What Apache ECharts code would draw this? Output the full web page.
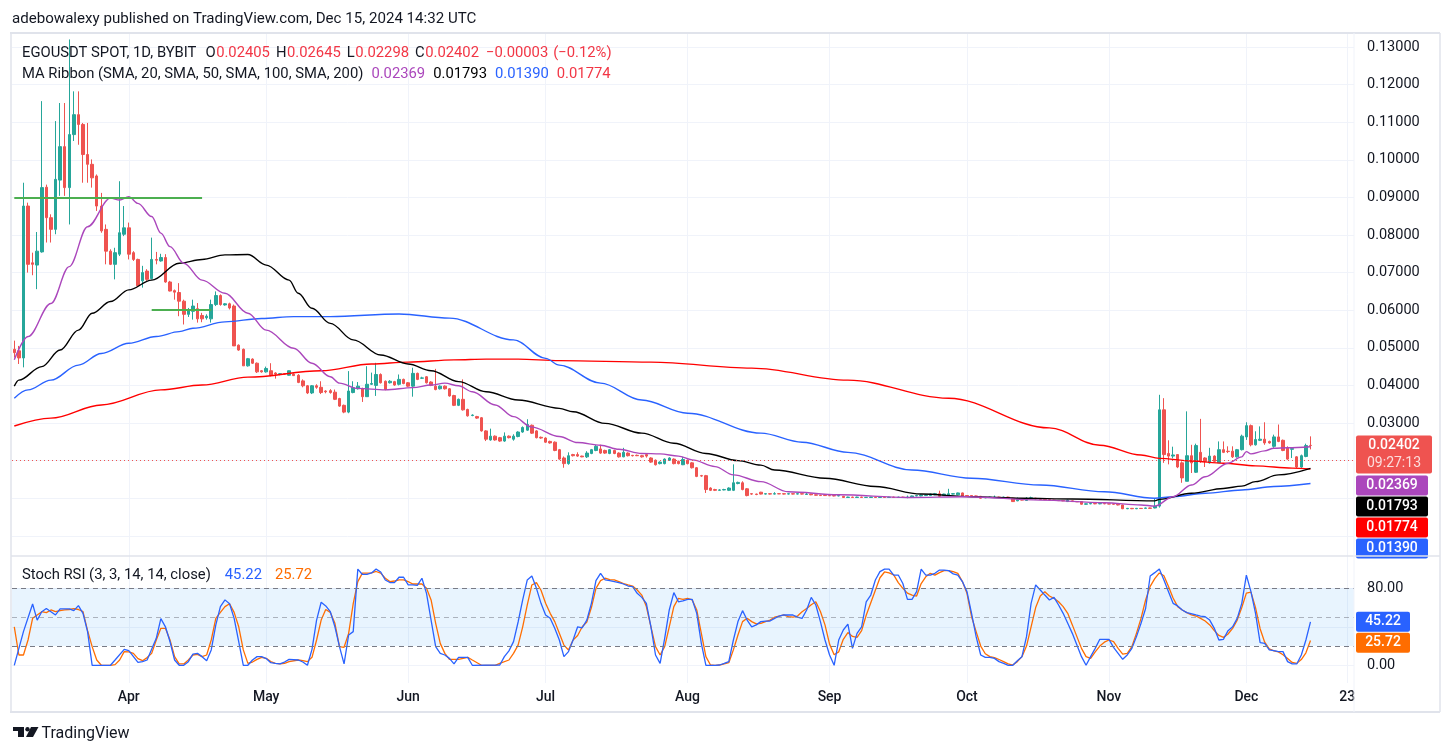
<!DOCTYPE html>
<html>
<head>
<meta charset="utf-8">
<title>EGOUSDT SPOT 1D</title>
<script src="https://cdn.jsdelivr.net/npm/echarts@6.0.0/dist/echarts.min.js"></script>
<style>
html,body{margin:0;padding:0;background:#ffffff;}
#chart{width:1454px;height:756px;}
</style>
</head>
<body>
<div id="chart"></div>
<script>
// ---------------- categories / ticks ----------------
const startDay = Date.UTC(2024, 2, 7);          // 2024-03-07, first daily candle
const dayCount = 293;                           // through 2024-12-24 (right margin of the time scale)
const monthNames = ['Jan','Feb','Mar','Apr','May','Jun','Jul','Aug','Sep','Oct','Nov','Dec'];
const extraTimeLabels = { '2024-12-23': '23' };
const priceGridValues = [0, 0.01, 0.02, 0.03, 0.04, 0.05, 0.06, 0.07, 0.08, 0.09, 0.10, 0.11, 0.12, 0.13];
const priceLabelValues = [0.03, 0.04, 0.05, 0.06, 0.07, 0.08, 0.09, 0.10, 0.11, 0.12, 0.13];
const stochGridValues = [0, 40, 80];
const stochLabelValues = [0, 80];

// ---------------- daily candles  [open, close, low, high] ----------------
const candlesMar = [
 [.0496,.0487,.0474,.0519],[.0492,.0473,.0457,.0505],[.0473,.0877,.0448,.0939],[.0877,.0722,.0700,.0886],
 [.0726,.0722,.0693,.0753],[.0720,.0757,.0656,.0808],[.0755,.0926,.0753,.1156],[.0927,.0846,.0780,.0934],
 [.0846,.0815,.0780,.0855],[.0815,.0948,.0802,.1103],[.0946,.1035,.0904,.1151],[.1035,.0926,.0904,.1151],
 [.0926,.1067,.0828,.1320],[.1067,.1120,.1050,.1182],[.1120,.1094,.1040,.1182],[.1094,.1014,.0939,.1098],
 [.1014,.0988,.0939,.1098],[.0988,.0952,.0926,.1001],[.0957,.0877,.0864,.0961],[.0877,.0811,.0806,.0912],
 [.0815,.0757,.0722,.0828],[.0757,.0722,.0720,.0762],[.0722,.0753,.0682,.0766],[.0749,.0806,.0744,.0943],
 [.0802,.0819,.0797,.0877]
];
const candlesApr = [
 [.0819,.0749,.0735,.0833],[.0753,.0735,.0731,.0757],[.0735,.0665,.0663,.0737],[.0678,.0700,.0660,.0718],
 [.0704,.0682,.0678,.0709],[.0684,.0735,.0682,.0793],[.0735,.0733,.0722,.0755],[.0731,.0740,.0729,.0750],
 [.0740,.0675,.0673,.0749],[.0675,.0651,.0650,.0678],[.0652,.0648,.0628,.0655],[.0647,.0624,.0584,.0672],
 [.0624,.0589,.0562,.0628],[.0589,.0602,.0582,.0606],[.0597,.0611,.0575,.0628],[.0604,.0577,.0567,.0619],
 [.0586,.0577,.0568,.0593],[.0580,.0584,.0575,.0589],[.0577,.0615,.0567,.0628],[.0615,.0639,.0611,.0650],
 [.0639,.0615,.0612,.0642],[.0614,.0617,.0612,.0619],[.0617,.0606,.0602,.0620],[.0611,.0505,.0505,.0615],
 [.0507,.0494,.0492,.0509],[.0496,.0452,.0452,.0498],[.0452,.0471,.0450,.0473],[.0470,.0459,.0457,.0472],
 [.0459,.0436,.0433,.0461],[.0439,.0436,.0434,.0441]
];
const candlesMay = [
 [.0436,.0445,.0434,.0450],[.0439,.0427,.0424,.0459],[.0433,.0430,.0418,.0435],[.0430,.0431,.0427,.0433],
 [.0431,.0430,.0428,.0432],[.0427,.0439,.0426,.0440],[.0430,.0426,.0425,.0432],[.0427,.0408,.0406,.0430],
 [.0412,.0399,.0395,.0416],[.0399,.0380,.0377,.0401],[.0380,.0399,.0377,.0401],[.0399,.0395,.0391,.0403],
 [.0395,.0381,.0377,.0411],[.0385,.0383,.0379,.0387],[.0386,.0381,.0378,.0390],[.0382,.0363,.0361,.0389],
 [.0365,.0345,.0343,.0367],[.0347,.0329,.0326,.0349],[.0329,.0385,.0326,.0438],[.0381,.0394,.0379,.0411],
 [.0391,.0398,.0389,.0409],[.0391,.0370,.0356,.0394],[.0370,.0403,.0370,.0451],[.0403,.0405,.0401,.0434],
 [.0400,.0429,.0372,.0460],[.0429,.0407,.0405,.0432],[.0411,.0389,.0387,.0413],[.0407,.0411,.0405,.0414],
 [.0410,.0401,.0399,.0412],[.0403,.0416,.0400,.0429],[.0416,.0405,.0403,.0418]
];
const candlesJun = [
 [.0407,.0398,.0396,.0409],[.0398,.0432,.0370,.0447],[.0432,.0416,.0414,.0434],[.0419,.0420,.0417,.0423],
 [.0423,.0407,.0405,.0425],[.0409,.0400,.0398,.0411],[.0398,.0389,.0387,.0444],[.0391,.0398,.0389,.0400],
 [.0398,.0391,.0389,.0400],[.0391,.0372,.0370,.0393],[.0373,.0347,.0345,.0375],[.0347,.0363,.0345,.0365],
 [.0363,.0335,.0333,.0416],[.0336,.0319,.0317,.0338],[.0320,.0321,.0318,.0323],[.0317,.0313,.0311,.0319],
 [.0314,.0279,.0277,.0316],[.0279,.0257,.0252,.0281],[.0255,.0265,.0253,.0285],[.0265,.0255,.0253,.0267],
 [.0261,.0252,.0250,.0263],[.0252,.0265,.0250,.0275],[.0265,.0261,.0259,.0267],[.0257,.0265,.0253,.0270],
 [.0264,.0276,.0262,.0278],[.0276,.0288,.0274,.0291],[.0281,.0296,.0279,.0310],[.0294,.0273,.0271,.0296],
 [.0279,.0261,.0259,.0281],[.0262,.0260,.0258,.0264]
];
const candlesJul = [
 [.0260,.0249,.0247,.0262],[.0251,.0247,.0245,.0253],[.0249,.0227,.0225,.0251],[.0229,.0204,.0202,.0231],
 [.0207,.0192,.0181,.0211],[.0192,.0213,.0189,.0222],[.0216,.0213,.0211,.0218],[.0216,.0212,.0210,.0222],
 [.0212,.0210,.0209,.0213],[.0210,.0220,.0207,.0225],[.0219,.0229,.0217,.0231],[.0227,.0238,.0225,.0242],
 [.0231,.0220,.0218,.0242],[.0227,.0220,.0218,.0229],[.0219,.0229,.0217,.0231],[.0227,.0219,.0217,.0229],
 [.0220,.0210,.0208,.0222],[.0210,.0222,.0209,.0234],[.0220,.0213,.0211,.0222],[.0214,.0213,.0211,.0215],
 [.0214,.0213,.0212,.0216],[.0213,.0210,.0208,.0215],[.0216,.0212,.0208,.0220],[.0207,.0196,.0194,.0209],
 [.0201,.0189,.0187,.0203],[.0192,.0196,.0190,.0198],[.0192,.0204,.0190,.0206],[.0201,.0207,.0199,.0209],
 [.0204,.0192,.0190,.0206],[.0198,.0192,.0190,.0200],[.0189,.0203,.0188,.0210]
];
const candlesAug = [
 [.0201,.0192,.0190,.0203],[.0194,.0181,.0179,.0196],[.0181,.0158,.0156,.0183],[.0160,.0159,.0157,.0162],
 [.0160,.0123,.0114,.0162],[.0127,.0121,.0119,.0129],[.0123,.0121,.0119,.0125],[.0121,.0122,.0120,.0124],
 [.0122,.0123,.0121,.0125],[.0121,.0127,.0119,.0129],[.0121,.0141,.0119,.0190],[.0139,.0142,.0137,.0144],
 [.0141,.0123,.0121,.0145],[.0125,.0107,.0105,.0127],[.0112,.0111,.0109,.0113],[.0111,.0110,.0108,.0112],
 [.0116,.0111,.0110,.0117],[.0111,.0112,.0110,.0113],[.0112,.0111,.0110,.0113],[.0111,.0112,.0110,.0116],
 [.0112,.01115,.0111,.0113],[.0112,.0111,.0110,.0113],[.0111,.0112,.0110,.0113],[.0112,.0111,.0110,.0113],
 [.0111,.0112,.0110,.0113],[.0112,.0111,.0110,.0112],[.0110,.0111,.0109,.0114],[.0111,.0109,.0108,.0112],
 [.0109,.0108,.0107,.0110],[.0108,.0107,.0106,.0109],[.0108,.0107,.0106,.0109]
];
const candlesSep = [
 [.0107,.01065,.0106,.0108],[.0107,.0106,.0105,.0108],[.0106,.0107,.0105,.0111],[.0105,.0102,.0101,.0106],
 [.0102,.0103,.0101,.0104],[.0103,.0102,.0101,.0104],[.0102,.0103,.0101,.0104],[.0103,.0102,.0101,.0104],
 [.0102,.01025,.0101,.0103],[.0102,.0103,.0101,.0104],[.0103,.0102,.0101,.0104],[.0102,.0103,.0101,.0104],
 [.0103,.0102,.0101,.0104],[.0102,.0103,.0101,.0104],[.0103,.0102,.0101,.0104],[.0102,.0103,.0101,.0104],
 [.0103,.0102,.0101,.0104],[.0102,.0103,.0100,.0107],[.0103,.0106,.0102,.0107],[.0106,.0107,.0105,.0109],
 [.0106,.0108,.0105,.0110],[.0107,.0108,.0106,.0110],[.0107,.0111,.0106,.0112],[.0109,.0112,.0108,.0114],
 [.0112,.0105,.0104,.0120],[.0107,.0111,.0106,.0112],[.0107,.0112,.0106,.0125],[.0111,.0112,.0110,.0113],
 [.0109,.0114,.0108,.0115],[.0114,.0105,.0104,.0115]
];
const candlesOct = [
 [.0107,.0106,.0105,.0108],[.0107,.0106,.0105,.0108],[.0106,.0105,.0104,.0107],[.0105,.0100,.0099,.0106],
 [.0101,.0102,.0100,.0103],[.0102,.0103,.0101,.0104],[.0102,.0103,.0101,.0107],[.0103,.0102,.0101,.0104],
 [.0102,.0103,.0101,.0104],[.0103,.0100,.0099,.0104],[.0100,.0091,.0090,.0101],[.0093,.0096,.0092,.0102],
 [.0096,.0095,.0094,.0097],[.0094,.0100,.0093,.0103],[.0100,.0101,.0099,.0104],[.0100,.0098,.0097,.0101],
 [.0098,.0097,.0096,.0099],[.0097,.0096,.0095,.0098],[.0096,.0095,.0094,.0097],[.0095,.0094,.0093,.0096],
 [.0094,.00935,.0093,.0095],[.0094,.0093,.0092,.0095],[.0091,.0095,.0090,.0096],[.0093,.0091,.0090,.0094],
 [.0091,.00905,.0090,.0092],[.0091,.0084,.0083,.0092],[.0084,.0085,.0083,.0086],[.0085,.0086,.0084,.0088],
 [.0086,.0085,.0084,.0087],[.0085,.0086,.0084,.0087],[.0086,.0085,.0084,.0087]
];
const candlesNov = [
 [.0085,.00845,.0084,.0086],[.0085,.0084,.0083,.0086],[.0084,.0082,.0081,.0085],[.0082,.0072,.0071,.0083],
 [.0072,.0073,.0071,.0074],[.0073,.0072,.0071,.0074],[.0072,.0073,.0071,.0074],[.0073,.00725,.0072,.0074],
 [.0073,.0074,.0072,.0075],[.0074,.0073,.0072,.0075],[.0074,.0079,.0073,.0100],[.0079,.0335,.0075,.0375],
 [.0335,.0216,.0194,.0366],[.0219,.0212,.0190,.0254],[.0212,.0215,.0206,.0237],[.0216,.0183,.0180,.0216],
 [.0194,.0154,.0141,.0198],[.0145,.0213,.0145,.0331],[.0213,.0194,.0167,.0242],[.0169,.0240,.0167,.0245],
 [.0222,.0198,.0194,.0311],[.0207,.0198,.0183,.0209],[.0194,.0212,.0192,.0234],[.0212,.0198,.0196,.0214],
 [.0194,.0229,.0194,.0251],[.0229,.0222,.0220,.0251],[.0225,.0224,.0220,.0238],[.0225,.0210,.0207,.0238],
 [.0210,.0229,.0208,.0231],[.0229,.0265,.0227,.0269]
];
const candlesDec = [
 [.0263,.0293,.0255,.0302],[.0293,.0242,.0238,.0296],[.0242,.0256,.0240,.0278],[.0254,.0257,.0252,.0291],
 [.0257,.0247,.0242,.0302],[.0251,.0247,.0245,.0253],[.0238,.0263,.0234,.0269],[.0263,.0251,.0249,.0296],
 [.0254,.0227,.0225,.0256],[.0234,.0204,.0202,.0238],[.0230,.0232,.0207,.0234],[.0210,.0183,.0180,.0212],
 [.0183,.0213,.0181,.0216],[.0211,.0240,.0209,.0245],[.02405,.02402,.02298,.02645]
];
const lastBar = { open: 0.02405, high: 0.02645, low: 0.02298, close: 0.02402, change: '\u22120.00003', pct: '(\u22120.12%)', timer: '09:27:13' };

// ---------------- MA ribbon (day index, value) ----------------
const sma20 = [[0,.0468],[3,.0530],[8,.0618],[12,.0716],[16,.0822],[21,.0898],[23,.0893],[25,.0902],[27,.0884],[30,.0849],[32,.0805],[34,.0769],[37,.0725],[41,.0680],[46,.0645],[51,.0592],[55,.0547],[61,.0499],[65,.0459],[69,.0423],[71,.0406],[75,.0392],[81,.0388],[87,.0394],[91,.0401],[94,.0406],[97,.0399],[100,.0383],[105,.0348],[109,.0317],[113,.0289],[119,.0264],[123,.0248],[128,.0241],[132,.0230],[137,.0219],[141,.0218],[145,.0212],[148,.0202],[153,.0184],[157,.0162],[163,.0144],[169,.0117],[180,.0109],[195,.0102],[208,.0104],[224,.0095],[238,.0088],[246,.0082],[249,.0079],[253,.0104],[257,.0135],[260,.0157],[265,.0193],[268,.0210],[269,.0224],[270,.0218],[273,.0226],[275,.0233],[278,.0234],[283,.02369]];
const sma50 = [[0,.0398],[1,.0414],[6,.0450],[10,.0494],[14,.0547],[17,.0592],[21,.0623],[25,.0654],[30,.0680],[36,.0725],[41,.0735],[46,.0747],[51,.0748],[55,.0720],[60,.0680],[62,.0645],[65,.0605],[69,.0565],[74,.0521],[80,.0481],[86,.0457],[91,.0439],[97,.0410],[103,.0383],[110,.0361],[119,.0339],[122,.0330],[129,.0299],[137,.0273],[144,.0246],[151,.0219],[158,.0200],[163,.0188],[166,.0175],[177,.0153],[188,.0131],[198,.0111],[209,.0104],[220,.0100],[231,.0098],[249,.0093],[250,.0097],[257,.0113],[264,.0126],[268,.0132],[271,.0144],[276,.0162],[283,.01793]];
const sma100 = [[0,.0366],[3,.0388],[8,.0414],[14,.0454],[19,.0485],[25,.0512],[31,.0530],[36,.0543],[39,.0552],[46,.0569],[54,.0578],[61,.0583],[69,.0583],[84,.0590],[95,.0579],[109,.0521],[116,.0472],[119,.0454],[128,.0406],[137,.0361],[147,.0326],[163,.0273],[172,.0249],[182,.0222],[196,.0175],[209,.0153],[224,.0135],[238,.0117],[249,.0100],[253,.0104],[260,.0113],[268,.0122],[275,.0131],[283,.0139]];
const sma200 = [[0,.0292],[8,.0313],[19,.0348],[32,.0388],[41,.0401],[51,.0422],[67,.0439],[78,.0457],[86,.0462],[96,.0468],[103,.0470],[110,.0470],[119,.0466],[139,.0462],[161,.0446],[182,.0414],[204,.0366],[226,.0287],[237,.0241],[246,.0215],[250,.0206],[257,.0199],[264,.0193],[271,.0186],[279,.0180],[283,.01774]];
const maLast = { sma20: 0.02369, sma50: 0.01793, sma100: 0.01390, sma200: 0.01774 };

// ---------------- Stoch RSI (day index, value) ----------------
const stochK = [[0,0],[2,35],[4,63.7],[5,47],[6,55.7],[7,59],[8,55.7],[9,52.3],[10,58.6],[11,58.6],[12,58.6],[13,56.8],[14,62],[15,54],[16,35],[17,0],[21,0],[22,5.5],[24,16.6],[25,15.2],[27,3],[28,3.8],[29,5.5],[31,28],[32,48.5],[33,40],[34,24.5],[35,5.5],[36,0],[37,0],[38,3.8],[39,11.7],[40,12.4],[41,9],[42,4.8],[43,16],[44,42],[45,61],[46,68],[47,64],[48,48.8],[49,24.5],[50,0],[51,0],[52,5.5],[53,9],[54,9],[55,7],[56,2.7],[57,2],[58,1.4],[59,3.4],[60,6.2],[62,5.5],[63,3.4],[64,0],[65,16.6],[66,47],[67,65.5],[68,61.7],[69,55.7],[70,40],[71,19.4],[72,1.4],[73,31.5],[74,35],[75,100],[76,94.4],[77,94.4],[78,96],[79,100],[80,97],[81,88.7],[82,86],[83,86],[84,91.5],[85,91.5],[86,83.6],[87,83.6],[88,83],[89,90.5],[90,74.8],[91,47],[92,19.4],[93,12.4],[94,10.7],
 [95,7.2],[96,1.4],[97,8.3],[99,8.3],[100,0],[106,0.3],[107,9],[108,15],[109,24.6],[110,45],[111,68],[112,88.7],[113,92.8],[114,80],[115,64.4],[116,52.3],[117,48.8],[118,38.4],[119,26.3],[120,9],[121,14.2],[122,26.3],[123,40],[124,39],[125,47],[126,64.4],[127,88],[128,95.6],[129,88.7],[130,88],[131,87],[132,86],[133,84.5],[134,82.4],[135,81.7],[136,74.8],[137,70.6],[138,64.4],[139,40],[140,10.7],[141,2],[142,28],[143,57.5],[144,75.5],[145,66],[146,67],[147,68.5],[148,68.5],[149,54],[150,22.8],[151,0],[153,0],[154,0.3],[155,2],[156,3.8],[157,26.3],[158,45.4],[159,56.8],[160,47],[161,40],[162,42],[163,45.4],[164,46],[165,46],[166,48.8],[167,51.2],[168,52.3],[170,52.3],[171,50],[172,48.8],[173,57.5],[174,70.6],[175,62.7],[176,45.4],[177,26.3],[178,10.7],[179,0],[180,26.3],[181,36.7],[182,42.9],[183,17.6],[184,33.2],[185,40],[186,66],[187,73],[188,88.7],[189,97.3],[190,100],[191,100],[192,93.8],[193,93.8],[194,85],[195,68.5],
 [196,68.5],[197,76.5],[198,100],[199,93.8],[200,93.8],[201,95.6],[202,99],[203,99],[204,98.4],[205,95],[206,93.8],[207,87],[208,76.5],[209,54],[210,29.8],[211,10.7],[212,8.3],[213,8.3],[214,7.2],[215,3.8],[216,2],[217,0],[218,0],[219,4.8],[220,9],[221,29.8],[222,64.4],[223,83.5],[224,78.3],[225,73],[226,67.9],[227,70.6],[228,62.7],[229,54],[230,43.6],[231,33.2],[232,21],[233,9],[234,0],[235,9],[236,17.6],[237,27],[238,27],[239,27],[240,18.7],[242,6.2],[243,10.7],[244,17.6],[245,29.8],[246,43.6],[247,59],[248,92.8],[249,96.3],[250,100],[251,88.7],[252,76.5],[253,64.4],[254,61.7],[255,57.5],[256,54.7],[258,52.3],[259,51.2],[260,50.5],[261,47],[262,38.4],[263,26.3],[264,27],[265,36],[266,40],[267,48.8],[268,64.4],[269,93.8],[270,76.5],[271,54],[272,23.5],[273,22.8],[274,16],[275,15.2],[276,14.2],[277,14.2],[278,3.8],[279,1.4],[280,1.4],[281,10.7],[282,26.3],[283,45.22]];
const stochD = [[0,40],[1,10.7],[2,10.7],[3,26.3],[4,48.8],[5,52.3],[6,55.7],[7,54.7],[8,57.5],[9,55.7],[10,56.8],[11,57.5],[12,58],[13,59],[14,58],[15,55.7],[16,36],[17,19.4],[18,5.5],[19,0],[21,0],[22,0.7],[23,5.5],[24,14.2],[25,14],[26,12.4],[27,7],[28,4.8],[29,8],[30,12.4],[31,26.3],[32,38.4],[33,38.4],[34,26.3],[35,9],[36,1.4],[37,1.4],[38,5.5],[39,10.7],[40,11.4],[41,9],[42,10.7],[43,26.3],[44,48.8],[45,55],[46,61],[47,64],[48,55],[49,40],[50,16],[51,2],[52,3.4],[53,6.2],[54,8.3],[55,7.3],[56,3.8],[57,2],[58,1.4],[59,2],[60,3.8],[62,5.5],[63,4.8],[64,3.8],[65,8.3],[66,26.3],[67,47],[68,58],[69,55],[70,43.6],[71,19.4],[72,18.7],[73,33.2],[74,64],[75,87],[76,95.8],[77,95.8],[78,96],[79,97.5],[80,95.8],[81,90.5],[82,87],[83,87.6],[84,88.7],[85,88.7],[86,87],[87,84.5],[88,84.5],[89,84.5],[90,80],[91,67.9],[92,43.6],[93,22.8],[94,12.4],
 [95,6.2],[97,6.2],[99,8.3],[100,5.5],[102,0],[105,0],[106,2],[108,5.5],[109,12.4],[110,21],[111,40],[112,62.7],[113,83.5],[114,86],[115,78],[116,64.4],[117,54],[118,45.4],[119,33.2],[120,21],[121,15.9],[122,26.3],[123,31],[124,40],[125,45],[126,60],[127,80],[128,88],[129,90.5],[130,89],[131,88.7],[132,87],[133,85],[134,83.5],[135,82.4],[136,78.3],[137,73],[138,61],[139,40],[140,19.4],[141,10.7],[142,19.4],[143,40],[144,61],[145,69.6],[146,68.5],[147,69.6],[148,68],[149,57.5],[150,33.2],[151,9],[152,0.3],[153,0],[154,0.3],[155,1.4],[156,2.7],[157,16],[158,31.5],[159,45.4],[160,48.8],[161,45.4],[162,43],[163,43.6],[164,45.4],[165,47],[166,50],[167,51.2],[168,52.3],[169,50.5],[170,50],[171,51.2],[172,55.7],[173,59],[174,63],[175,66],[176,56],[177,42],[178,22],[179,11],[180,14],[181,27],[182,34],[183,30],[184,29],[185,36],[186,52],[187,65],[188,78],[189,91],[190,97],[191,96],[192,94],
 [193,86],[194,80],[195,75],[196,73],[197,72],[198,85],[199,92],[200,95.6],[201,93.8],[202,96.3],[203,98.4],[204,98.4],[205,97.3],[206,95.6],[207,87],[208,74.8],[209,50.5],[210,35],[211,20],[212,12],[213,9],[214,8],[215,6],[216,3.8],[217,1.4],[218,0.3],[219,3.8],[220,9],[221,20],[222,40],[223,60],[224,72],[225,76.5],[226,72],[227,69.6],[228,66],[229,61],[230,54],[231,42],[232,29.8],[233,17.6],[234,9],[235,7.2],[236,14],[237,20],[238,24],[239,26.3],[240,24.6],[241,17.6],[242,11.7],[243,12.4],[244,19.4],[245,33.2],[246,48.8],[247,67.9],[248,82],[249,90],[250,96],[251,93],[252,82],[253,70],[254,61],[255,57.5],[256,54.7],[257,52.3],[258,51.2],[259,48.8],[260,46],[261,42],[262,36],[263,31],[264,29],[265,32.5],[266,38.4],[267,47],[268,60],[269,75],[270,76],[271,60],[272,38],[273,24],[274,17],[275,15],[276,14],[277,11],[278,7],[279,3],[280,2],[281,6],[282,13],[283,25.72]];
const stochLast = { k: 45.22, d: 25.72 };

// ---------------- drawings on the chart (day index, price) ----------------
const drawnLevels = [
  { from: 0, to: 41, price: 0.09 },
  { from: 30, to: 43, price: 0.0601 }
];

// ---------------- build ----------------
const categories = [];
for (let i = 0; i < dayCount; i++) {
  const d = new Date(startDay + i * 86400000);
  categories.push(d.toISOString().slice(0, 10));
}
function timeLabel(value) {
  if (extraTimeLabels[value]) return extraTimeLabels[value];
  const parts = value.split('-');
  if (parts[2] === '01') return monthNames[parseInt(parts[1], 10) - 1];
  return '';
}
function isTimeTick(index) { return timeLabel(categories[index]) !== ''; }

const candles = [].concat(candlesMar, candlesApr, candlesMay, candlesJun, candlesJul, candlesAug,
                          candlesSep, candlesOct, candlesNov, candlesDec);

const FONT = 'Roboto, "Noto Sans", sans-serif';
const TXT = '#131722';
const GRIDC = '#f0f3fa';
const UP = '#26a69a', DOWN = '#ef5350';
const C20 = '#ab47bc', C50 = '#000000', C100 = '#2962ff', C200 = '#ff0000';
const CK = '#2962ff', CD = '#ff6d00';
const RED_TXT = '#f23645';
const LEG = 14.8;

const GL = 12, GW = 1342;
const P1T = 33, P1H = 523, P2T = 556, P2H = 127;

const chart = echarts.init(document.getElementById('chart'), null, { renderer: 'canvas' });

function maSeries(name, data, color) {
  return {
    name: name, type: 'line', xAxisIndex: 0, yAxisIndex: 0, data: data,
    showSymbol: false, smooth: 0.35, smoothMonotone: 'x', silent: true,
    lineStyle: { color: color, width: 1.4 }, z: 4
  };
}

const option = {
  animation: false,
  backgroundColor: '#ffffff',
  textStyle: { fontFamily: FONT },
  grid: [
    { left: GL, width: GW, top: P1T, height: P1H },
    { left: GL, width: GW, top: P2T, height: P2H }
  ],
  xAxis: [
    { type: 'category', gridIndex: 0, data: categories, boundaryGap: true,
      axisLine: { show: false }, axisTick: { show: false, alignWithLabel: true, interval: isTimeTick },
      axisLabel: { show: false },
      splitLine: { show: true, interval: isTimeTick, alignWithLabel: true, lineStyle: { color: GRIDC, width: 1 } } },
    { type: 'category', gridIndex: 1, data: categories, boundaryGap: true,
      axisLine: { show: false }, axisTick: { show: false, alignWithLabel: true, interval: isTimeTick },
      axisLabel: { show: true, interval: isTimeTick, formatter: timeLabel, color: TXT, fontSize: 14, fontWeight: 500, margin: 7, fontFamily: FONT },
      splitLine: { show: true, interval: isTimeTick, alignWithLabel: true, lineStyle: { color: GRIDC, width: 1 } } }
  ],
  yAxis: [
    { type: 'value', gridIndex: 0, position: 'right', min: -0.00537, max: 0.13372, scale: false,
      axisLine: { show: false },
      axisTick: { show: false, customValues: priceGridValues },
      axisLabel: { show: true, customValues: priceLabelValues, formatter: v => v.toFixed(5), color: TXT, fontSize: 14.5, margin: 13, fontFamily: FONT },
      splitLine: { show: true, lineStyle: { color: GRIDC, width: 1 } } },
    { type: 'value', gridIndex: 1, position: 'right', min: -18.4, max: 113.6,
      axisLine: { show: false },
      axisTick: { show: false, customValues: stochGridValues },
      axisLabel: { show: true, customValues: stochLabelValues, formatter: v => v.toFixed(2), color: TXT, fontSize: 14.5, margin: 13, fontFamily: FONT },
      splitLine: { show: true, lineStyle: { color: GRIDC, width: 1 } } }
  ],
  series: [
    maSeries('SMA 200', sma200, C200),
    maSeries('SMA 100', sma100, C100),
    maSeries('SMA 50', sma50, C50),
    maSeries('SMA 20', sma20, C20),
    {
      name: 'EGOUSDT', type: 'candlestick', xAxisIndex: 0, yAxisIndex: 0, data: candles,
      barWidth: 3, silent: true, z: 3,
      itemStyle: { color: UP, color0: DOWN, borderColor: UP, borderColor0: DOWN, borderWidth: 1 },
      markLine: {
        silent: true, symbol: ['none', 'none'], animation: false, label: { show: false },
        data: [
          { yAxis: lastBar.close, lineStyle: { color: DOWN, width: 1, type: [1, 3] } }
        ].concat(drawnLevels.map(l => [
          { coord: [categories[l.from], l.price], lineStyle: { color: '#4caf50', width: 2, type: 'solid' } },
          { coord: [categories[l.to], l.price] }
        ]))
      }
    },
    {
      name: 'K', type: 'line', xAxisIndex: 1, yAxisIndex: 1, data: stochK, showSymbol: false, silent: true,
      lineStyle: { color: CK, width: 1.3 }, z: 4,
      markArea: { silent: true, itemStyle: { color: 'rgba(33,150,243,0.1)' }, data: [[{ yAxis: 20 }, { yAxis: 80 }]] },
      markLine: {
        silent: true, symbol: ['none', 'none'], label: { show: false },
        data: [
          { yAxis: 80, lineStyle: { color: '#787b86', width: 1, type: [5, 4] } },
          { yAxis: 50, lineStyle: { color: 'rgba(120,123,134,0.55)', width: 1, type: [5, 4] } },
          { yAxis: 20, lineStyle: { color: '#787b86', width: 1, type: [5, 4] } }
        ]
      }
    },
    {
      name: 'D', type: 'line', xAxisIndex: 1, yAxisIndex: 1, data: stochD, showSymbol: false, silent: true,
      lineStyle: { color: CD, width: 1.3 }, z: 3
    }
  ]
};
chart.setOption(option);

// ---------- overlay texts / frame / value tags ----------
const measureCtx = document.createElement('canvas').getContext('2d');
function textWidth(text, font) { measureCtx.font = font; return measureCtx.measureText(text).width; }

function tag(x, yTop, w, h, bg, lines) {
  const children = [{ type: 'rect', shape: { x: x, y: yTop, width: w, height: h, r: 2 }, style: { fill: bg } }];
  lines.forEach((ln, i) => {
    children.push({ type: 'text', style: { x: x + w / 2, y: yTop + 10 + i * 18, text: ln.text, fill: ln.color || '#ffffff',
      font: (ln.weight || '500') + ' 14px ' + FONT, align: 'center', verticalAlign: 'middle' } });
  });
  return { type: 'group', z: 100, children: children };
}
// lay out a legend row: pieces [text, color, gapAfter]
function legendRow(x, y, pieces) {
  const font = LEG + 'px ' + FONT;
  const out = [];
  let cx = x;
  pieces.forEach(p => {
    out.push({ type: 'text', z: 100, style: { x: cx, y: y, text: p[0], fill: p[1], font: font, verticalAlign: 'middle' } });
    cx += textWidth(p[0], font) + p[2];
  });
  return out;
}

const xTag = GL + GW + 2;
const yClose = chart.convertToPixel({ yAxisIndex: 0 }, lastBar.close);
const tagW = 76, tagH = 20;
let yCursor = yClose - 10;
const priceTags = [];
priceTags.push(tag(xTag, yCursor, tagW, 38, DOWN, [{ text: lastBar.close.toFixed(5) }, { text: lastBar.timer, color: 'rgba(255,255,255,0.8)', weight: 'normal' }]));
yCursor += 40;
[[maLast.sma20, C20], [maLast.sma50, C50], [maLast.sma200, C200], [maLast.sma100, C100]].forEach(t => {
  priceTags.push(tag(xTag, yCursor, tagW - 4, tagH, t[1], [{ text: t[0].toFixed(5) }]));
  yCursor += tagH + 1;
});
const yK = chart.convertToPixel({ yAxisIndex: 1 }, stochLast.k);
const yD = chart.convertToPixel({ yAxisIndex: 1 }, stochLast.d);
const kTop = yK - 10;
const dTop = Math.max(yD - 10, kTop + tagH + 1);
priceTags.push(tag(xTag, kTop, 54, tagH, CK, [{ text: stochLast.k.toFixed(2) }]));
priceTags.push(tag(xTag, dTop, 54, tagH, CD, [{ text: stochLast.d.toFixed(2) }]));

const frameColor = '#e0e3eb';
const row1 = legendRow(22, 53, [
  ['EGOUSDT SPOT, 1D, BYBIT', TXT, 9], ['O', TXT, 0.5], [lastBar.open.toFixed(5), RED_TXT, 6],
  ['H', TXT, 0.5], [lastBar.high.toFixed(5), RED_TXT, 6], ['L', TXT, 0.5], [lastBar.low.toFixed(5), RED_TXT, 6],
  ['C', TXT, 0.5], [lastBar.close.toFixed(5), RED_TXT, 7], [lastBar.change, RED_TXT, 5], [lastBar.pct, RED_TXT, 0]
]);
const row2 = legendRow(22, 74, [
  ['MA Ribbon (SMA, 20, SMA, 50, SMA, 100, SMA, 200)', TXT, 8], [maLast.sma20.toFixed(5), C20, 8],
  [maLast.sma50.toFixed(5), C50, 8], [maLast.sma100.toFixed(5), C100, 8], [maLast.sma200.toFixed(5), RED_TXT, 0]
]);
const row3 = legendRow(22, 575, [
  ['Stoch RSI (3, 3, 14, 14, close)', TXT, 14], [stochLast.k.toFixed(2), CK, 13], [stochLast.d.toFixed(2), CD, 0]
]);

const graphics = [
  { type: 'text', z: 100, style: { x: 12, y: 19, text: 'adebowalexy published on TradingView.com, Dec 15, 2024 14:32 UTC',
      fill: TXT, font: '15.1px ' + FONT, verticalAlign: 'middle' } },
  { type: 'line', z: 90, shape: { x1: 10, y1: 33, x2: 1440, y2: 33 }, style: { stroke: frameColor, lineWidth: 2 } },
  { type: 'line', z: 90, shape: { x1: 11, y1: 33, x2: 11, y2: 712 }, style: { stroke: frameColor, lineWidth: 1.5 } },
  { type: 'line', z: 90, shape: { x1: 1440, y1: 33, x2: 1440, y2: 712 }, style: { stroke: frameColor, lineWidth: 1.5 } },
  { type: 'line', z: 90, shape: { x1: 10, y1: 712, x2: 1440, y2: 712 }, style: { stroke: frameColor, lineWidth: 2 } },
  { type: 'line', z: 90, shape: { x1: 11, y1: P2T, x2: 1440, y2: P2T }, style: { stroke: frameColor, lineWidth: 1.5 } },
  { type: 'line', z: 90, shape: { x1: GL + GW, y1: 33, x2: GL + GW, y2: 712 }, style: { stroke: '#f0f3fa', lineWidth: 1 } },
  // TradingView logo
  { type: 'group', z: 100, children: [
      { type: 'rect', shape: { x: 13, y: 727, width: 11, height: 4 }, style: { fill: TXT } },
      { type: 'rect', shape: { x: 18, y: 727, width: 6, height: 10 }, style: { fill: TXT } },
      { type: 'circle', shape: { cx: 27.5, cy: 729.2, r: 2.2 }, style: { fill: TXT } },
      { type: 'polygon', shape: { points: [[31, 727], [38.5, 727], [33, 737], [26, 737]] }, style: { fill: TXT } }
  ] },
  { type: 'text', z: 100, style: { x: 41.5, y: 733.5, text: 'TradingView', fill: TXT, font: '16px ' + FONT, verticalAlign: 'middle' } }
].concat(row1, row2, row3, priceTags);

chart.setOption({ graphic: graphics });
</script>
</body>
</html>
